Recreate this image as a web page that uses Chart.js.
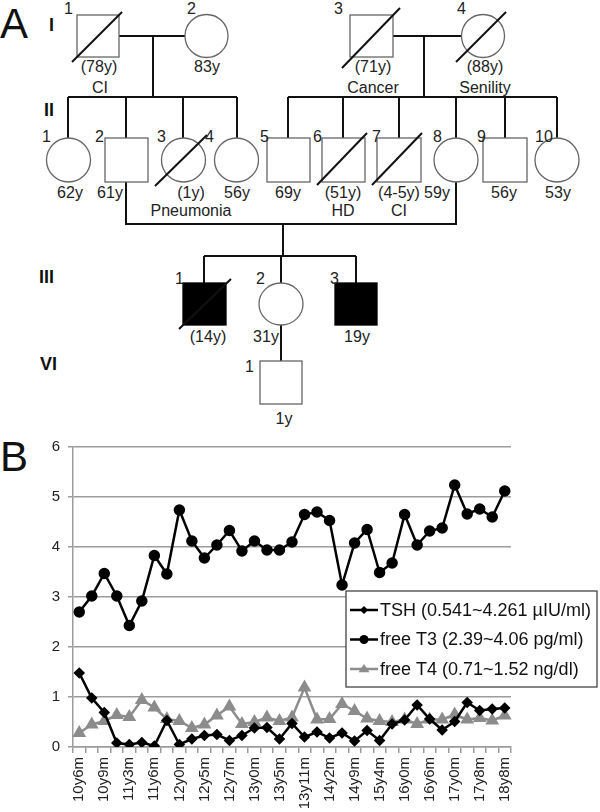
<!DOCTYPE html>
<html>
<head>
<meta charset="utf-8">
<script src="https://cdn.jsdelivr.net/npm/chart.js@4"></script>
<style>
  html, body { margin: 0; padding: 0; background: #fff; }
  body { width: 600px; height: 812px; position: relative; overflow: hidden; font-family: 'Liberation Sans', Arial, sans-serif; }
  #pedigree { position: absolute; left: 0; top: 0; }
  .panel { position: absolute; left: 0; font-size: 42px; color: #111; line-height: 1; }
  #chartWrap { position: absolute; left: 0; top: 430px; width: 600px; height: 382px; }
</style>
</head>
<body>
<div class="panel" style="top:3px">A</div>
<div class="panel" style="top:436px">B</div>

<svg id="pedigree" width="600" height="430" font-family="Liberation Sans, Arial, sans-serif" font-size="16" fill="#222">
  <g stroke="#111" stroke-width="2" fill="none">
    <!-- generation I -->
    <line x1="119" y1="36" x2="185" y2="36"/>
    <line x1="153" y1="36" x2="153" y2="97"/>
    <line x1="393" y1="36" x2="462" y2="36"/>
    <line x1="424" y1="36" x2="424" y2="97"/>
    <!-- sibships II -->
    <line x1="68" y1="97" x2="237" y2="97"/>
    <line x1="68" y1="97" x2="68" y2="138"/>
    <line x1="126" y1="97" x2="126" y2="138"/>
    <line x1="183" y1="97" x2="183" y2="138"/>
    <line x1="237" y1="97" x2="237" y2="138"/>
    <line x1="288" y1="97" x2="557" y2="97"/>
    <line x1="288" y1="97" x2="288" y2="138"/>
    <line x1="343" y1="97" x2="343" y2="138"/>
    <line x1="399" y1="97" x2="399" y2="138"/>
    <line x1="456" y1="97" x2="456" y2="138"/>
    <line x1="505" y1="97" x2="505" y2="138"/>
    <line x1="557" y1="97" x2="557" y2="138"/>
    <!-- marriage II-2 x II-8 -->
    <polyline points="126,182 126,224 456,224 456,182"/>
    <line x1="283" y1="224" x2="283" y2="256"/>
    <line x1="204" y1="256" x2="356" y2="256"/>
    <line x1="204" y1="256" x2="204" y2="283"/>
    <line x1="281" y1="256" x2="281" y2="283"/>
    <line x1="356" y1="256" x2="356" y2="283"/>
    <line x1="281" y1="325" x2="281" y2="361"/>
  </g>
  <g stroke="#666" stroke-width="1.3" fill="#fff">
    <rect x="77" y="15" width="42" height="42"/>
    <circle cx="206.5" cy="36" r="21.5"/>
    <rect x="350" y="15" width="43" height="42"/>
    <circle cx="483" cy="36" r="21.5"/>
    <circle cx="68.5" cy="160" r="22"/>
    <rect x="105" y="138" width="43" height="44"/>
    <circle cx="183.5" cy="160" r="22"/>
    <circle cx="236.5" cy="160" r="22"/>
    <rect x="267" y="138" width="43" height="44"/>
    <rect x="322" y="138" width="43" height="44"/>
    <rect x="377" y="138" width="44" height="44"/>
    <circle cx="456" cy="160" r="22"/>
    <rect x="483" y="138" width="44" height="44"/>
    <circle cx="557" cy="160" r="22"/>
    <rect x="183" y="283" width="43" height="42" fill="#000" stroke="#000"/>
    <ellipse cx="281" cy="304" rx="22" ry="21"/>
    <rect x="335" y="283" width="42" height="42" fill="#000" stroke="#000"/>
    <rect x="260" y="361" width="42" height="43"/>
  </g>
  <g stroke="#111" stroke-width="2">
    <line x1="72" y1="62" x2="122" y2="12"/>
    <line x1="342" y1="68" x2="400" y2="8"/>
    <line x1="456" y1="62" x2="506" y2="12"/>
    <line x1="155" y1="186" x2="207" y2="135"/>
    <line x1="317" y1="185" x2="367" y2="133"/>
    <line x1="372" y1="185" x2="422" y2="133"/>
    <line x1="179" y1="329" x2="231" y2="279"/>
  </g>
  <g font-weight="bold" font-size="18" fill="#111">
    <text x="49" y="31">I</text>
    <text x="44" y="116">II</text>
    <text x="39" y="283">III</text>
    <text x="40" y="370">VI</text>
  </g>
  <g>
    <text x="64" y="14">1</text>
    <text x="187" y="14">2</text>
    <text x="334" y="14">3</text>
    <text x="457" y="14">4</text>
    <text x="42" y="142">1</text>
    <text x="95" y="142">2</text>
    <text x="157" y="142">3</text>
    <text x="205" y="142">4</text>
    <text x="260" y="142">5</text>
    <text x="313" y="142">6</text>
    <text x="372" y="142">7</text>
    <text x="433" y="142">8</text>
    <text x="477" y="142">9</text>
    <text x="535" y="142">10</text>
    <text x="175" y="284">1</text>
    <text x="256" y="284">2</text>
    <text x="330" y="284">3</text>
    <text x="245" y="372">1</text>
  </g>
  <g text-anchor="middle">
    <text x="99" y="72">(78y)</text>
    <text x="207" y="72">83y</text>
    <text x="100" y="93">CI</text>
    <text x="373" y="72">(71y)</text>
    <text x="373" y="93">Cancer</text>
    <text x="485" y="72">(88y)</text>
    <text x="485" y="93">Senility</text>
    <text x="70" y="198">62y</text>
    <text x="110" y="198">61y</text>
    <text x="191" y="198">(1y)</text>
    <text x="237" y="198">56y</text>
    <text x="288" y="198">69y</text>
    <text x="343" y="198">(51y)</text>
    <text x="399" y="198">(4-5y)</text>
    <text x="437" y="198">59y</text>
    <text x="504" y="198">56y</text>
    <text x="558" y="198">53y</text>
    <text x="191" y="216">Pneumonia</text>
    <text x="343" y="216">HD</text>
    <text x="399" y="216">CI</text>
    <text x="208" y="342">(14y)</text>
    <text x="266" y="342">31y</text>
    <text x="357" y="342">19y</text>
    <text x="284" y="424">1y</text>
  </g>
</svg>

<div id="chartWrap"><canvas id="hormoneChart"></canvas></div>

<script>
// ages at each measurement (only every other one is labelled in the figure)
const ageLabels = [
  '10y6m', '', '10y9m', '', '11y3m', '', '11y6m', '', '12y0m', '', '12y5m', '', '12y7m', '',
  '13y0m', '', '13y5m', '', '13y11m', '', '14y2m', '', '14y9m', '', '15y4m', '', '16y0m', '',
  '16y6m', '', '17y0m', '', '17y8m', '', '18y8m'
];

const tshValues = [1.48, 0.98, 0.69, 0.08, 0.05, 0.09, 0.02, 0.53, 0.05, 0.16, 0.23, 0.25, 0.13, 0.23,
  0.38, 0.39, 0.16, 0.47, 0.20, 0.30, 0.18, 0.28, 0.12, 0.33, 0.13, 0.46, 0.54, 0.84, 0.56, 0.34,
  0.51, 0.89, 0.73, 0.76, 0.78];

const freeT3Values = [2.70, 3.02, 3.47, 3.02, 2.43, 2.92, 3.83, 3.46, 4.74, 4.12, 3.78, 4.04, 4.33, 3.92,
  4.12, 3.94, 3.94, 4.10, 4.65, 4.70, 4.53, 3.24, 4.08, 4.35, 3.49, 3.68, 4.65, 4.04, 4.32, 4.38,
  5.24, 4.66, 4.76, 4.60, 5.12];

const freeT4Values = [0.28, 0.45, 0.52, 0.64, 0.60, 0.94, 0.79, 0.56, 0.52, 0.38, 0.45, 0.63, 0.81, 0.46,
  0.50, 0.59, 0.52, 0.59, 1.19, 0.55, 0.56, 0.86, 0.72, 0.57, 0.52, 0.50, 0.55, 0.46, 0.55, 0.55,
  0.65, 0.55, 0.58, 0.53, 0.63];

const seriesNames = ['TSH (0.541~4.261 µIU/ml)', 'free T3 (2.39~4.06 pg/ml)', 'free T4 (0.71~1.52 ng/dl)'];
const yTicks = [0, 1, 2, 3, 4, 5, 6];

const FONT = "'Liberation Sans', Arial, sans-serif";
const GRID = '#9c9c9c';

function drawMarker(ctx, style, x, y, r, color) {
  ctx.fillStyle = color;
  ctx.beginPath();
  if (style === 'circle') {
    ctx.arc(x, y, r, 0, Math.PI * 2);
  } else if (style === 'rectRot') {
    ctx.moveTo(x, y - r); ctx.lineTo(x + r, y); ctx.lineTo(x, y + r); ctx.lineTo(x - r, y);
  } else {
    const h = r * 1.5;
    ctx.moveTo(x, y - h * 0.6); ctx.lineTo(x + r, y + h * 0.4); ctx.lineTo(x - r, y + h * 0.4);
  }
  ctx.closePath();
  ctx.fill();
}

// boxed legend that sits over the lower right of the plot
const boxLegend = {
  id: 'boxLegend',
  afterDraw(chart) {
    const { ctx, chartArea } = chart;
    const left = chartArea.right - 165;
    const top = chartArea.top + 144;
    const w = 251, h = 96;
    ctx.save();
    ctx.fillStyle = '#fff';
    ctx.fillRect(left, top, w, h);
    ctx.strokeStyle = '#444';
    ctx.lineWidth = 1.3;
    ctx.strokeRect(left, top, w, h);
    ctx.font = '18px ' + FONT;
    ctx.textBaseline = 'middle';
    chart.data.datasets.forEach((ds, i) => {
      const y = top + 19 + i * 29.5;
      ctx.strokeStyle = ds.borderColor;
      ctx.lineWidth = 2.5;
      ctx.beginPath();
      ctx.moveTo(left + 4, y);
      ctx.lineTo(left + 32, y);
      ctx.stroke();
      drawMarker(ctx, ds.pointStyle, left + 18, y, ds.pointRadius, ds.pointBackgroundColor);
      ctx.fillStyle = '#111';
      ctx.fillText(ds.label, left + 34, y + 1);
    });
    ctx.restore();
  }
};

new Chart(document.getElementById('hormoneChart'), {
  type: 'line',
  data: {
    labels: ageLabels,
    datasets: [{
      label: seriesNames[0],
      data: tshValues,
      borderColor: '#000',
      backgroundColor: '#000',
      pointBackgroundColor: '#000',
      pointBorderColor: '#000',
      pointStyle: 'rectRot',
      pointRadius: 4,
      borderWidth: 2.5,
      tension: 0
    }, {
      label: seriesNames[1],
      data: freeT3Values,
      borderColor: '#000',
      backgroundColor: '#000',
      pointBackgroundColor: '#000',
      pointBorderColor: '#000',
      pointStyle: 'circle',
      pointRadius: 4.5,
      borderWidth: 2.5,
      tension: 0
    }, {
      label: seriesNames[2],
      data: freeT4Values,
      borderColor: '#8c8c8c',
      backgroundColor: '#8c8c8c',
      pointBackgroundColor: '#8c8c8c',
      pointBorderColor: '#8c8c8c',
      pointStyle: 'triangle',
      pointRadius: 5.5,
      borderWidth: 2.5,
      tension: 0
    }]
  },
  options: {
    responsive: true,
    maintainAspectRatio: false,
    animation: false,
    layout: { padding: { left: 0, top: 15, right: 89, bottom: 3 } },
    scales: {
      x: {
        offset: true,
        afterFit: (scale) => { scale.height = 62; },
        grid: {
          offset: true,
          drawOnChartArea: false,
          drawTicks: true,
          tickLength: 6,
          color: GRID,
          lineWidth: 1.5
        },
        border: { color: GRID, width: 1.5 },
        ticks: {
          autoSkip: false,
          minRotation: 90,
          maxRotation: 90,
          padding: 4,
          color: '#222',
          font: { family: FONT, size: 15 }
        }
      },
      y: {
        min: 0,
        max: 6,
        afterFit: (scale) => { scale.width = 73; },
        afterBuildTicks: (scale) => { scale.ticks = yTicks.map(v => ({ value: v })); },
        grid: { color: GRID, lineWidth: 1.5, tickLength: 5 },
        border: { color: GRID, width: 1.5 },
        ticks: {
          padding: 8,
          color: '#222',
          font: { family: FONT, size: 15 }
        }
      }
    },
    plugins: {
      legend: { display: false },
      tooltip: { enabled: false }
    }
  },
  plugins: [boxLegend]
});
</script>
</body>
</html>
